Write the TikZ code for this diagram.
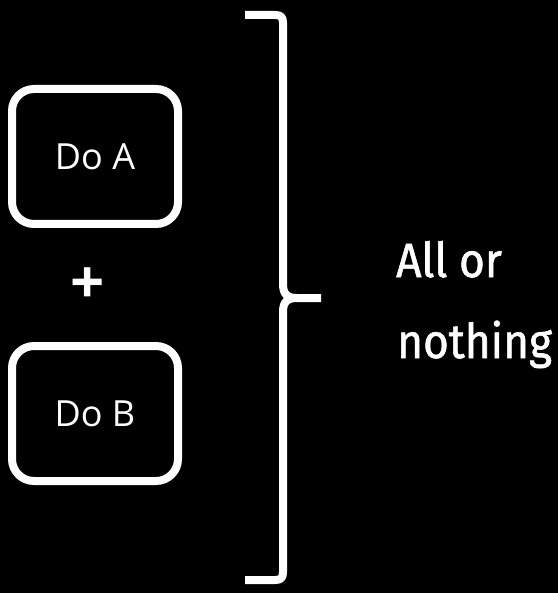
\documentclass[tikz,border=0pt]{standalone}
\usepackage{fontspec}
\setmainfont{Open Sans}
\newfontfamily\handfont[FakeStretch=0.92,FakeBold=1.2]{Fira Sans}
\begin{document}
\begin{tikzpicture}[x=1pt,y=-1pt,
  taskbox/.style={draw=white,line width=8pt,rounded corners=22pt,fill=black,
    minimum width=166pt,minimum height=135pt,text=white,font=\fontsize{36}{42}\selectfont},
  handtext/.style={text=white,anchor=base west,inner sep=0pt,font=\handfont\fontsize{48}{56}\selectfont},
  bracestyle/.style={draw=white,line width=8pt,line join=round}]
\fill[black] (0,0) rectangle (558,593);
\useasboundingbox (0,0) rectangle (558,593);
\node[taskbox] (a) at (95,156.5) {Do A};
\node[taskbox] (b) at (95,413.5) {Do B};
\node[text=white,font=\bfseries\fontsize{60}{66}\selectfont] (plus) at (88,286) {+};
\coordinate (btop) at (245,15);
\coordinate (bbot) at (245,580);
\coordinate (btip) at (321,298);
\draw[bracestyle] (btop) -- (275,15) .. controls (281,15) and (283,17) .. (283,23)
  -- (283,284) .. controls (283,294) and (287,298) .. (297,298) -- (btip);
\draw[bracestyle] (297,298) .. controls (287,298) and (283,302) .. (283,312)
  -- (283,572) .. controls (283,578) and (281,580) .. (275,580) -- (bbot);
\node[handtext] (allor) at (396,277) {All or};
\node[handtext] (nothing) at (397,358) {nothing};
\end{tikzpicture}
\end{document}
